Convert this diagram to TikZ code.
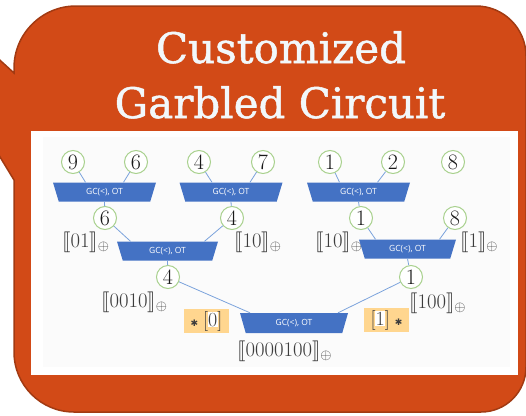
\documentclass[tikz,border=0pt]{standalone}
\usepackage{fontspec}
\usepackage{stmaryrd}
\usetikzlibrary{shapes.geometric}
\newfontfamily\titlefont{DejaVu Serif}[FakeBold=1.2]
\newfontfamily\gatefont{Open Sans}
\newfontfamily\symfont{DejaVu Sans}
\definecolor{calloutfill}{HTML}{D24A17}
\definecolor{calloutedge}{HTML}{A23A12}
\definecolor{titlewhite}{HTML}{F2F8FB}
\definecolor{gateblue}{HTML}{4472C4}
\definecolor{wireblue}{HTML}{7BA3DC}
\definecolor{valgreen}{HTML}{A9D18E}
\definecolor{sharegrey}{HTML}{3C3C3C}
\definecolor{selorange}{HTML}{FFD68F}
\definecolor{panelgrey}{HTML}{FBFBFB}
\newcommand{\shr}[1]{$\llbracket #1\rrbracket_{\oplus}$}
\begin{document}
\begin{tikzpicture}[x=1pt,y=-1pt,
  wire/.style={draw=wireblue, line width=0.8pt},
  val/.style={circle, draw=valgreen, line width=1pt, fill=white,
    minimum size=23pt, inner sep=0pt, text=black!90,
    font=\fontsize{22}{22}\selectfont},
  gate/.style={trapezium, trapezium stretches body, shape border rotate=180,
    trapezium angle=52.6, fill=gateblue, text=white, inner sep=0pt,
    minimum height=19pt, minimum width=#1,
    font=\gatefont\fontsize{8.5}{8.5}\selectfont},
  share/.style={text=sharegrey, inner sep=0pt, anchor=base west,
    font=\fontsize{22.5}{22.5}\selectfont},
  sel/.style={fill=selorange, inner sep=0pt, minimum width=45pt,
    minimum height=24pt, text=sharegrey, font=\fontsize{20}{20}\selectfont},
  title/.style={text=titlewhite, anchor=base, inner sep=0pt,
    font=\titlefont\fontsize{42}{42}\selectfont}
]
\useasboundingbox (0,0) rectangle (526,415);
\clip (0,0) rectangle (526,415);

% speech-bubble background
\filldraw[fill=calloutfill, draw=calloutedge, line width=1.5pt]
  (14,180) -- (14,352) arc (180:90:60) -- (481,412) arc (90:0:45)
  -- (526,56) arc (0:-90:50) -- (76,6) arc (270:180:62)
  -- (14,73) -- (-20,42) -- (-20,124) -- cycle;

% title
\node[title] (title1) at (281,63) {Customized};
\node[title] (title2) at (280,118) {Garbled Circuit};

% white panel holding the circuit
\fill[white] (31,131) rectangle (518,375);
\fill[panelgrey] (43,137) rectangle (510,367);

% level 1 inputs
\node[val] (a1) at (73,162) {9};
\node[val] (a2) at (136,162) {6};
\node[val] (a3) at (199,162) {4};
\node[val] (a4) at (263,162) {7};
\node[val] (a5) at (330,162) {1};
\node[val] (a6) at (393,162) {2};
\node[val] (a7) at (453,162) {8};

% level 1 gates
\node[gate=103pt] (g1) at (104.5,192) {GC(<), OT};
\node[gate=103pt] (g2) at (231,192) {GC(<), OT};
\node[gate=103pt] (g3) at (358.5,192) {GC(<), OT};

% level 2 values
\node[val] (b1) at (105,218) {6};
\node[val] (b2) at (232,218) {4};
\node[val] (b3) at (361,218) {1};
\node[val] (b4) at (455,218) {8};

\node[share] (s1) at (62,247) {\shr{01}};
\node[share] (s2) at (234,247) {\shr{10}};
\node[share] (s3) at (315,247) {\shr{10}};
\node[share] (s4) at (460,247) {\shr{1}};

% level 2 gates
\node[gate=101pt] (g4) at (167.5,251) {GC(<), OT};
\node[gate=97pt] (g5) at (407.5,249) {GC(<), OT};

% level 3 values
\node[val] (c1) at (168,277) {4};
\node[val] (c2) at (411,277) {1};

\node[share] (s5) at (101,307) {\shr{0010}};
\node[share] (s6) at (409,308) {\shr{100}};

% final gate
\node[gate=108pt, minimum height=20pt] (g6) at (294,323) {GC(<), OT};
\node[share] (s7) at (237,356) {\shr{0000100}};

% selection boxes
\setlength{\fboxsep}{0.6pt}
\node[sel] (selL) at (206.5,321)
  {{\symfont\fontsize{9}{9}\selectfont ✱}\hspace{5pt}[\kern-0.5pt\colorbox{white}{0}\kern-0.5pt]};
\node[sel] (selR) at (386.5,320)
  {[\kern-0.5pt\colorbox{white}{1}\kern-0.5pt]\hspace{5pt}{\symfont\fontsize{9}{9}\selectfont ✱}};

% wires
\draw[wire] (a1) -- ([xshift=-19pt]g1.north);
\draw[wire] (a2) -- ([xshift=19pt]g1.north);
\draw[wire] (a3) -- ([xshift=-19pt]g2.north);
\draw[wire] (a4) -- ([xshift=19pt]g2.north);
\draw[wire] (a5) -- ([xshift=-19pt]g3.north);
\draw[wire] (a6) -- ([xshift=19pt]g3.north);
\draw[wire] (g1.south) -- (b1);
\draw[wire] (g2.south) -- (b2);
\draw[wire] (g3.south) -- (b3);
\draw[wire] (b1) -- ([xshift=-37pt]g4.north);
\draw[wire] (b2) -- ([xshift=37pt]g4.north);
\draw[wire] (b3) -- ([xshift=-32pt]g5.north);
\draw[wire] (b4) -- ([xshift=32pt]g5.north);
\draw[wire] (g4.south) -- (c1);
\draw[wire] (g5.south) -- (c2);
\draw[wire] (c1) -- ([xshift=-44pt]g6.north);
\draw[wire] (c2) -- ([xshift=44pt]g6.north);
\end{tikzpicture}
\end{document}
